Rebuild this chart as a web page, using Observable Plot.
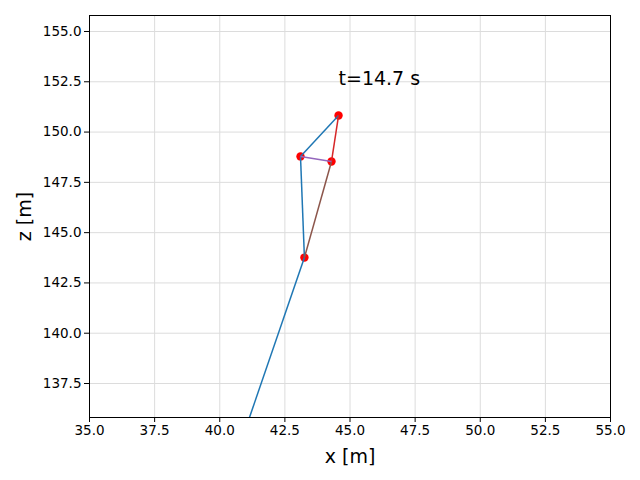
<!DOCTYPE html>
<html><head><meta charset="utf-8">
<script src="https://cdn.jsdelivr.net/npm/d3@7"></script>
<script src="https://cdn.jsdelivr.net/npm/@observablehq/plot@0.6"></script>
<style>body{margin:0;background:#fff;font-family:"DejaVu Sans",sans-serif}</style>
</head><body><div id="chart"></div>
<script>
// Node positions (x, z) in metres
const nodeX = [44.56, 43.10, 44.29, 43.25];
const nodeZ = [150.82, 148.79, 148.54, 143.76];
// Segments: [from, to, colour]
const segFromX = [41.14, 43.25, 43.10, 43.25, 44.29, 43.10];
const segFromZ = [135.81, 143.76, 148.79, 143.76, 148.54, 148.79];
const segToX   = [43.25, 43.10, 44.56, 44.29, 44.56, 44.29];
const segToZ   = [143.76, 148.79, 150.82, 148.54, 150.82, 148.54];
const segColor = ["#1f77b4", "#1f77b4", "#1f77b4", "#8c564b", "#d62728", "#9467bd"];
const xTicks = [35, 37.5, 40, 42.5, 45, 47.5, 50, 52.5, 55];
const zTicks = [137.5, 140, 142.5, 145, 147.5, 150, 152.5, 155];
const timeLabel = "t=14.7 s";
const labelX = 44.56, labelZ = 152.32;

const nodes = nodeX.map((x, i) => ({x, z: nodeZ[i]}));
const segs = segFromX.map((x1, i) => ({x1, z1: segFromZ[i], x2: segToX[i], z2: segToZ[i], c: segColor[i]}));

const chart = Plot.plot({
  width: 640, height: 480,
  marginLeft: 89, marginRight: 30, marginTop: 15, marginBottom: 63,
  style: {fontFamily: "DejaVu Sans", fontSize: "13.5px", color: "#000", background: "#fff"},
  x: {domain: [35, 55], label: null},
  y: {domain: [135.81, 155.795], label: null},
  marks: [
    Plot.gridX(xTicks, {stroke: "#dcdcdc", strokeOpacity: 1}),
    Plot.gridY(zTicks, {stroke: "#dcdcdc", strokeOpacity: 1}),
    Plot.dot(nodes, {x: "x", y: "z", r: 4.2, fill: "red", stroke: "none"}),
    Plot.link(segs, {x1: "x1", y1: "z1", x2: "x2", y2: "z2", stroke: "c", strokeWidth: 1.5}),
    Plot.text([timeLabel], {x: labelX, y: labelZ, text: d => d, textAnchor: "start", lineAnchor: "bottom", fontSize: 19}),
    Plot.frame({stroke: "#000", strokeWidth: 1}),
    Plot.axisX(xTicks, {tickFormat: d => d.toFixed(1), tickSize: 5, tickPadding: 3, label: null, fontSize: 13.5}),
    Plot.axisY(zTicks, {tickFormat: d => d.toFixed(1), tickSize: 5, tickPadding: 3, label: null, fontSize: 13.5}),
    Plot.text(["x [m]"], {frameAnchor: "bottom", dy: 39, text: d => d, fontSize: 19, lineAnchor: "middle"}),
    Plot.text(["z [m]"], {frameAnchor: "left", dx: -65, text: d => d, fontSize: 19, rotate: -90, textAnchor: "middle", lineAnchor: "middle"})
  ]
});
document.getElementById("chart").appendChild(chart);
</script></body></html>
